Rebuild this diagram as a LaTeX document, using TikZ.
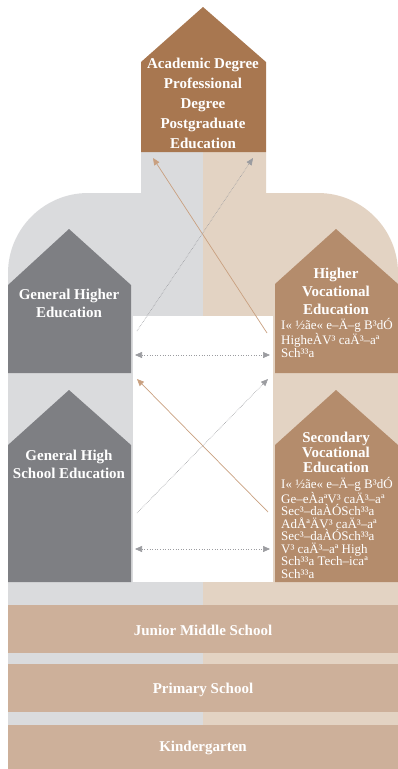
\documentclass[tikz,border=0pt]{standalone}
\usepackage{fontspec}
\setmainfont{Liberation Serif}
\usetikzlibrary{arrows.meta}
\definecolor{bggray}{HTML}{DADBDD}
\definecolor{bgtan}{HTML}{E3D3C3}
\definecolor{housegray}{HTML}{7E7F83}
\definecolor{housetan}{HTML}{B48C6C}
\definecolor{topbrown}{HTML}{A87750}
\definecolor{bartan}{HTML}{CDB09A}
\definecolor{arrowtan}{HTML}{C9A080}
\definecolor{arrowgray}{HTML}{9B9CA0}
\tikzset{
  head/.style={text=white,font=\bfseries\fontsize{15}{18}\selectfont,align=center,inner sep=0pt},
  small/.style={text=white,font=\fontsize{13}{12.5}\selectfont,align=left,inner sep=0pt,anchor=base west},
  tanarrow/.style={draw=arrowtan,line width=0.7pt,-{Triangle[length=7pt,width=6pt]}},
  grayarrow/.style={draw=arrowgray,line width=0.6pt,densely dotted,-{Triangle[length=7pt,width=6pt]}},
  twoway/.style={draw=arrowgray,line width=0.6pt,dotted,{Triangle[length=7pt,width=6pt]}-{Triangle[length=7pt,width=6pt]}}
}
\begin{document}
\begin{tikzpicture}[x=1pt,y=-1pt]
  \useasboundingbox (0,0) rectangle (398,769);
  \fill[bggray] (8,769) -- (8,273) .. controls (8,229) and (44,193) .. (88,193) -- (141,193) -- (141,152) -- (203,152) -- (203,769) -- cycle;
  \fill[bgtan] (398,769) -- (398,273) .. controls (398,229) and (362,193) .. (318,193) -- (266,193) -- (266,152) -- (203,152) -- (203,769) -- cycle;
  \fill[white] (133,316) rectangle (273,582);
  \fill[topbrown] (141,152) -- (141,62) -- (203,7) -- (266,62) -- (266,152) -- cycle;
  \fill[housegray] (8,373) -- (8,285) -- (69,229) -- (131,285) -- (131,373) -- cycle;
  \fill[housegray] (8,582) -- (8,445) -- (69,390) -- (131,445) -- (131,582) -- cycle;
  \fill[housetan] (275,373) -- (275,284) -- (336,229) -- (398,284) -- (398,373) -- cycle;
  \fill[housetan] (275,582) -- (275,445) -- (336,390) -- (398,445) -- (398,582) -- cycle;
  \fill[bartan] (8,605) rectangle (398,653);
  \fill[bartan] (8,664) rectangle (398,712);
  \fill[bartan] (8,725) rectangle (398,769);

  \node[head,anchor=base,font=\bfseries\fontsize{15}{20}\selectfont] (Acad) at (203,148) {Academic Degree\\Professional\\Degree\\Postgraduate\\Education};
  \node[head,anchor=base] (GenHigher) at (69,317) {General Higher\\Education};
  \node[head,anchor=base] (GenHigh) at (69,478) {General High\\School Education};
  \node[head,anchor=base] (HighVoc) at (336,314) {Higher\\Vocational\\Education};
  \node[small] (HighVocSub) at (281,357) {I« ½ãe« e–Ä–g B³dÓ\\HigheÀV³ caÄ³–aª\\Sch³³a};
  \node[head,anchor=base,font=\bfseries\fontsize{15}{15}\selectfont] (SecVoc) at (336,472) {Secondary\\Vocational\\Education};
  \node[small] (SecVocSub) at (281,578) {I« ½ãe« e–Ä–g B³dÓ\\Ge–eÀaªV³ caÄ³–aª\\Sec³–daÀÓSch³³a\\AdÅªÄV³ caÄ³–aª\\Sec³–daÀÓSch³³a\\V³ caÄ³–aª High\\Sch³³a Tech–icaª\\Sch³³a};
  \node[head] (Junior) at (203,630) {Junior Middle School};
  \node[head] (Primary) at (203,690) {Primary School};
  \node[head] (Kinder) at (203,748) {Kindergarten};

  \coordinate (UpTanFrom) at (267,333);
  \coordinate (UpTanTo) at (153,158);
  \coordinate (UpGrayFrom) at (137,331);
  \coordinate (UpGrayTo) at (253,158);
  \coordinate (MidL) at (135,355);
  \coordinate (MidR) at (270,355);
  \coordinate (LowTanFrom) at (268,512);
  \coordinate (LowTanTo) at (137,379);
  \coordinate (LowGrayFrom) at (137,513);
  \coordinate (LowGrayTo) at (268,379);
  \coordinate (BotL) at (135,549);
  \coordinate (BotR) at (270,549);
  \draw[tanarrow] (UpTanFrom) -- (UpTanTo);
  \draw[grayarrow] (UpGrayFrom) -- (UpGrayTo);
  \draw[twoway] (MidL) -- (MidR);
  \draw[tanarrow] (LowTanFrom) -- (LowTanTo);
  \draw[grayarrow] (LowGrayFrom) -- (LowGrayTo);
  \draw[twoway] (BotL) -- (BotR);
\end{tikzpicture}
\end{document}
